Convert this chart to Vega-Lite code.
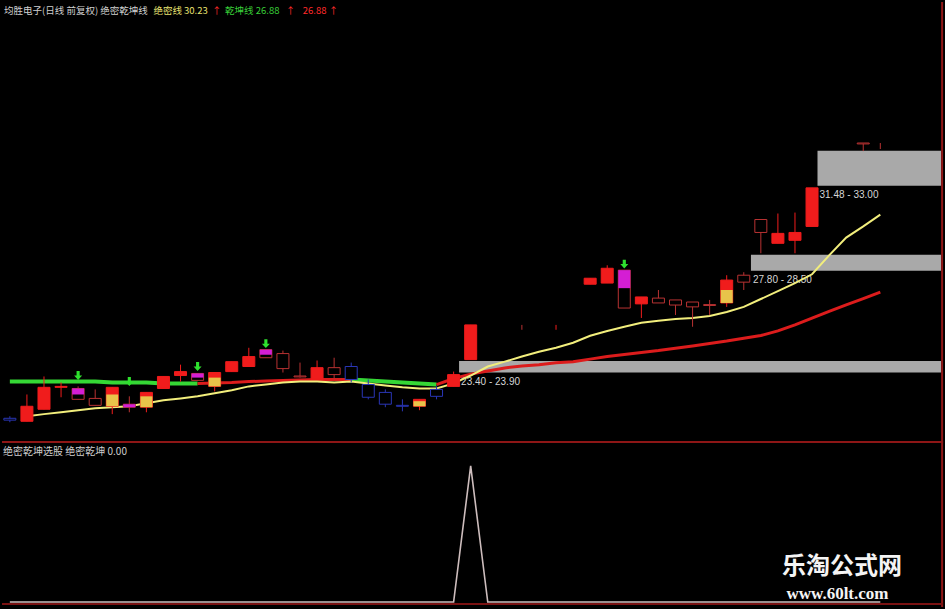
{
  "$schema": "https://vega.github.io/schema/vega-lite/v6.json",
  "autosize": {"type": "fit", "contains": "padding"},
  "width": 945,
  "height": 609,
  "padding": 0,
  "background": "#000000",
  "config": {
    "view": {"stroke": null},
    "font": "Noto Sans CJK SC"
  },
  "datasets": {
    "bands": [
      {"from": 25.32, "to": 53.56, "lo": 23.40, "hi": 23.90, "label": "23.40 - 23.90"},
      {"from": 42.42, "to": 53.56, "lo": 27.80, "hi": 28.50, "label": "27.80 - 28.50"},
      {"from": 46.32, "to": 53.56, "lo": 31.48, "hi": 33.00, "label": "31.48 - 33.00"}
    ],
    "candles": [
      {"i": -1, "hi": 21.51, "lo": 21.25, "top": 21.42, "bot": 21.34, "k": "蓝"},
      {"i": 0, "hi": 22.45, "lo": 21.29, "top": 21.94, "bot": 21.29, "k": "实"},
      {"i": 1, "hi": 23.23, "lo": 21.81, "top": 22.76, "bot": 21.81, "k": "实"},
      {"i": 2, "hi": 22.97, "lo": 22.33, "top": 22.80, "bot": 22.76, "k": "实"},
      {"i": 3, "hi": 22.80, "lo": 22.24, "top": 22.71, "bot": 22.24, "k": "空"},
      {"i": 4, "hi": 22.67, "lo": 21.98, "top": 22.28, "bot": 21.98, "k": "空"},
      {"i": 5, "hi": 22.76, "lo": 21.60, "top": 22.76, "bot": 21.94, "k": "实"},
      {"i": 6, "hi": 22.37, "lo": 21.68, "top": 22.03, "bot": 21.90, "k": "空"},
      {"i": 7, "hi": 22.54, "lo": 21.68, "top": 22.54, "bot": 21.90, "k": "实"},
      {"i": 8, "hi": 23.23, "lo": 22.71, "top": 23.23, "bot": 22.71, "k": "实"},
      {"i": 9, "hi": 23.74, "lo": 23.01, "top": 23.44, "bot": 23.27, "k": "实"},
      {"i": 10, "hi": 23.36, "lo": 23.06, "top": 23.36, "bot": 23.06, "k": "空"},
      {"i": 11, "hi": 23.40, "lo": 22.58, "top": 23.40, "bot": 22.80, "k": "实"},
      {"i": 12, "hi": 23.87, "lo": 23.44, "top": 23.87, "bot": 23.44, "k": "实"},
      {"i": 13, "hi": 24.47, "lo": 23.66, "top": 24.09, "bot": 23.66, "k": "实"},
      {"i": 14, "hi": 24.39, "lo": 24.04, "top": 24.39, "bot": 24.04, "k": "空"},
      {"i": 15, "hi": 24.35, "lo": 23.40, "top": 24.22, "bot": 23.57, "k": "空"},
      {"i": 16, "hi": 23.83, "lo": 23.18, "top": 23.25, "bot": 23.21, "k": "空"},
      {"i": 17, "hi": 23.92, "lo": 23.10, "top": 23.61, "bot": 23.10, "k": "实"},
      {"i": 18, "hi": 24.04, "lo": 23.10, "top": 23.61, "bot": 23.31, "k": "空"},
      {"i": 19, "hi": 23.83, "lo": 22.97, "top": 23.66, "bot": 23.10, "k": "蓝"},
      {"i": 20, "hi": 23.10, "lo": 22.24, "top": 22.88, "bot": 22.33, "k": "蓝"},
      {"i": 21, "hi": 22.67, "lo": 21.90, "top": 22.54, "bot": 22.03, "k": "蓝"},
      {"i": 22, "hi": 22.24, "lo": 21.72, "top": 21.98, "bot": 21.94, "k": "蓝"},
      {"i": 23, "hi": 22.24, "lo": 21.77, "top": 22.24, "bot": 21.94, "k": "实"},
      {"i": 24, "hi": 22.80, "lo": 22.24, "top": 22.67, "bot": 22.37, "k": "蓝"},
      {"i": 25, "hi": 23.44, "lo": 22.80, "top": 23.31, "bot": 22.80, "k": "实"},
      {"i": 26, "hi": 25.46, "lo": 23.96, "top": 25.46, "bot": 23.96, "k": "实"},
      {"i": 29, "hi": 25.46, "lo": 25.25, "top": null, "bot": null, "k": "空"},
      {"i": 31, "hi": 25.46, "lo": 25.25, "top": null, "bot": null, "k": "实"},
      {"i": 33, "hi": 27.48, "lo": 27.22, "top": 27.48, "bot": 27.22, "k": "实"},
      {"i": 34, "hi": 28.04, "lo": 27.27, "top": 27.91, "bot": 27.27, "k": "实"},
      {"i": 35, "hi": 27.83, "lo": 26.19, "top": 27.83, "bot": 26.19, "k": "空"},
      {"i": 36, "hi": 26.67, "lo": 25.76, "top": 26.67, "bot": 26.37, "k": "实"},
      {"i": 37, "hi": 26.97, "lo": 26.41, "top": 26.62, "bot": 26.41, "k": "空"},
      {"i": 38, "hi": 26.54, "lo": 25.89, "top": 26.54, "bot": 26.32, "k": "空"},
      {"i": 39, "hi": 26.45, "lo": 25.38, "top": 26.45, "bot": 26.24, "k": "空"},
      {"i": 40, "hi": 26.54, "lo": 25.89, "top": 26.34, "bot": 26.30, "k": "空"},
      {"i": 41, "hi": 27.61, "lo": 26.24, "top": 27.40, "bot": 26.41, "k": "实"},
      {"i": 42, "hi": 27.74, "lo": 26.97, "top": 27.61, "bot": 27.31, "k": "空"},
      {"i": 43, "hi": 30.02, "lo": 28.56, "top": 30.02, "bot": 29.46, "k": "空"},
      {"i": 44, "hi": 30.28, "lo": 28.99, "top": 29.42, "bot": 28.99, "k": "实"},
      {"i": 45, "hi": 30.32, "lo": 28.56, "top": 29.46, "bot": 29.12, "k": "实"},
      {"i": 46, "hi": 31.39, "lo": 29.72, "top": 31.39, "bot": 29.72, "k": "实"},
      {"i": 49, "hi": 33.33, "lo": 32.98, "top": 33.33, "bot": 33.29, "k": "空"},
      {"i": 50, "hi": 33.33, "lo": 33.07, "top": null, "bot": null, "k": "空"}
    ],
    "overlays": [
      {"i": 3, "top": 22.71, "bot": 22.45, "k": "紫"},
      {"i": 5, "top": 22.45, "bot": 21.94, "k": "黄"},
      {"i": 6, "top": 22.03, "bot": 21.90, "k": "紫"},
      {"i": 7, "top": 22.37, "bot": 21.90, "k": "黄"},
      {"i": 10, "top": 23.36, "bot": 23.18, "k": "紫"},
      {"i": 11, "top": 23.18, "bot": 22.80, "k": "黄"},
      {"i": 14, "top": 24.39, "bot": 24.17, "k": "紫"},
      {"i": 23, "top": 22.16, "bot": 21.94, "k": "黄"},
      {"i": 35, "top": 27.83, "bot": 27.05, "k": "紫"},
      {"i": 41, "top": 26.97, "bot": 26.41, "k": "黄"}
    ],
    "arrows": [
      {"i": 3, "p": 23.27},
      {"i": 6, "p": 23.01},
      {"i": 10, "p": 23.66},
      {"i": 14, "p": 24.65},
      {"i": 35, "p": 28.09}
    ],
    "qiankun": [
      {"i": -1, "v": 23.01, "seg": "A", "s": "弱"},
      {"i": 0, "v": 23.01, "seg": "A", "s": "弱"},
      {"i": 1, "v": 23.01, "seg": "A", "s": "弱"},
      {"i": 2, "v": 23.01, "seg": "A", "s": "弱"},
      {"i": 3, "v": 23.01, "seg": "A", "s": "弱"},
      {"i": 4, "v": 23.01, "seg": "A", "s": "弱"},
      {"i": 5, "v": 22.97, "seg": "A", "s": "弱"},
      {"i": 6, "v": 22.97, "seg": "A", "s": "弱"},
      {"i": 7, "v": 22.97, "seg": "A", "s": "弱"},
      {"i": 8, "v": 22.93, "seg": "A", "s": "弱"},
      {"i": 9, "v": 22.93, "seg": "A", "s": "弱"},
      {"i": 10, "v": 22.93, "seg": "A", "s": "弱"},
      {"i": 10, "v": 22.93, "seg": "B", "s": "强"},
      {"i": 11, "v": 22.95, "seg": "B", "s": "强"},
      {"i": 12, "v": 22.97, "seg": "B", "s": "强"},
      {"i": 13, "v": 23.01, "seg": "B", "s": "强"},
      {"i": 14, "v": 23.03, "seg": "B", "s": "强"},
      {"i": 15, "v": 23.06, "seg": "B", "s": "强"},
      {"i": 16, "v": 23.08, "seg": "B", "s": "强"},
      {"i": 17, "v": 23.10, "seg": "B", "s": "强"},
      {"i": 18, "v": 23.10, "seg": "B", "s": "强"},
      {"i": 19, "v": 23.10, "seg": "B", "s": "强"},
      {"i": 19, "v": 23.10, "seg": "C", "s": "弱"},
      {"i": 20, "v": 23.06, "seg": "C", "s": "弱"},
      {"i": 21, "v": 23.01, "seg": "C", "s": "弱"},
      {"i": 22, "v": 22.97, "seg": "C", "s": "弱"},
      {"i": 23, "v": 22.93, "seg": "C", "s": "弱"},
      {"i": 24, "v": 22.88, "seg": "C", "s": "弱"},
      {"i": 24, "v": 22.88, "seg": "D", "s": "强"},
      {"i": 25, "v": 23.14, "seg": "D", "s": "强"},
      {"i": 26, "v": 23.33, "seg": "D", "s": "强"},
      {"i": 27, "v": 23.47, "seg": "D", "s": "强"},
      {"i": 28, "v": 23.60, "seg": "D", "s": "强"},
      {"i": 29, "v": 23.68, "seg": "D", "s": "强"},
      {"i": 30, "v": 23.74, "seg": "D", "s": "强"},
      {"i": 31, "v": 23.82, "seg": "D", "s": "强"},
      {"i": 32, "v": 23.87, "seg": "D", "s": "强"},
      {"i": 33, "v": 23.98, "seg": "D", "s": "强"},
      {"i": 34, "v": 24.09, "seg": "D", "s": "强"},
      {"i": 35, "v": 24.18, "seg": "D", "s": "强"},
      {"i": 36, "v": 24.27, "seg": "D", "s": "强"},
      {"i": 37, "v": 24.35, "seg": "D", "s": "强"},
      {"i": 38, "v": 24.45, "seg": "D", "s": "强"},
      {"i": 39, "v": 24.55, "seg": "D", "s": "强"},
      {"i": 40, "v": 24.66, "seg": "D", "s": "强"},
      {"i": 41, "v": 24.76, "seg": "D", "s": "强"},
      {"i": 42, "v": 24.88, "seg": "D", "s": "强"},
      {"i": 43, "v": 25.00, "seg": "D", "s": "强"},
      {"i": 44, "v": 25.20, "seg": "D", "s": "强"},
      {"i": 45, "v": 25.46, "seg": "D", "s": "强"},
      {"i": 46, "v": 25.75, "seg": "D", "s": "强"},
      {"i": 47, "v": 26.05, "seg": "D", "s": "强"},
      {"i": 48, "v": 26.33, "seg": "D", "s": "强"},
      {"i": 49, "v": 26.60, "seg": "D", "s": "强"},
      {"i": 50, "v": 26.88, "seg": "D", "s": "强"}
    ],
    "juemi": [
      {"i": 0, "v": 21.51}, {"i": 1, "v": 21.60}, {"i": 2, "v": 21.68}, {"i": 3, "v": 21.77},
      {"i": 4, "v": 21.85}, {"i": 5, "v": 21.90}, {"i": 6, "v": 21.94}, {"i": 7, "v": 22.07},
      {"i": 8, "v": 22.20}, {"i": 9, "v": 22.28}, {"i": 10, "v": 22.37}, {"i": 11, "v": 22.50},
      {"i": 12, "v": 22.63}, {"i": 13, "v": 22.80}, {"i": 14, "v": 22.88}, {"i": 15, "v": 22.97},
      {"i": 16, "v": 23.01}, {"i": 17, "v": 23.01}, {"i": 18, "v": 22.97}, {"i": 19, "v": 23.01},
      {"i": 20, "v": 22.93}, {"i": 21, "v": 22.84}, {"i": 22, "v": 22.76}, {"i": 23, "v": 22.71},
      {"i": 24, "v": 22.71}, {"i": 25, "v": 22.93}, {"i": 26, "v": 23.27}, {"i": 27, "v": 23.66},
      {"i": 28, "v": 23.87}, {"i": 29, "v": 24.09}, {"i": 30, "v": 24.30}, {"i": 31, "v": 24.47},
      {"i": 32, "v": 24.69}, {"i": 33, "v": 24.99}, {"i": 34, "v": 25.20}, {"i": 35, "v": 25.38},
      {"i": 36, "v": 25.55}, {"i": 37, "v": 25.64}, {"i": 38, "v": 25.72}, {"i": 39, "v": 25.76},
      {"i": 40, "v": 25.85}, {"i": 41, "v": 26.02}, {"i": 42, "v": 26.24}, {"i": 43, "v": 26.58},
      {"i": 44, "v": 26.92}, {"i": 45, "v": 27.27}, {"i": 46, "v": 27.65}, {"i": 47, "v": 28.47},
      {"i": 48, "v": 29.24}, {"i": 49, "v": 29.72}, {"i": 50, "v": 30.23}
    ],
    "header": [
      {"i": -1.34, "t": "均胜电子(日线 前复权) 绝密乾坤线", "g": "名"},
      {"i": 7.41, "t": "绝密线 30.23", "g": "绝密线"},
      {"i": 10.85, "t": "↑", "g": "升"},
      {"i": 11.61, "t": "乾坤线 26.88", "g": "乾坤线"},
      {"i": 15.17, "t": "↑", "g": "升"},
      {"i": 16.16, "t": "26.88", "g": "升"},
      {"i": 17.68, "t": "↑", "g": "升"}
    ],
    "select": [
      {"i": -1, "v": 0}, {"i": 0, "v": 0}, {"i": 1, "v": 0}, {"i": 2, "v": 0}, {"i": 3, "v": 0},
      {"i": 4, "v": 0}, {"i": 5, "v": 0}, {"i": 6, "v": 0}, {"i": 7, "v": 0}, {"i": 8, "v": 0},
      {"i": 9, "v": 0}, {"i": 10, "v": 0}, {"i": 11, "v": 0}, {"i": 12, "v": 0}, {"i": 13, "v": 0},
      {"i": 14, "v": 0}, {"i": 15, "v": 0}, {"i": 16, "v": 0}, {"i": 17, "v": 0}, {"i": 18, "v": 0},
      {"i": 19, "v": 0}, {"i": 20, "v": 0}, {"i": 21, "v": 0}, {"i": 22, "v": 0}, {"i": 23, "v": 0},
      {"i": 24, "v": 0}, {"i": 25, "v": 0}, {"i": 26, "v": 1}, {"i": 27, "v": 0}, {"i": 28, "v": 0},
      {"i": 29, "v": 0}, {"i": 30, "v": 0}, {"i": 31, "v": 0}, {"i": 32, "v": 0}, {"i": 33, "v": 0},
      {"i": 34, "v": 0}, {"i": 35, "v": 0}, {"i": 36, "v": 0}, {"i": 37, "v": 0}, {"i": 38, "v": 0},
      {"i": 39, "v": 0}, {"i": 40, "v": 0}, {"i": 41, "v": 0}, {"i": 42, "v": 0}, {"i": 43, "v": 0},
      {"i": 44, "v": 0}, {"i": 45, "v": 0}, {"i": 46, "v": 0}, {"i": 47, "v": 0}, {"i": 48, "v": 0},
      {"i": 49, "v": 0}, {"i": 50, "v": 0}
    ],
    "subtitle": [
      {"i": -1.4, "v": 1.10, "t": "绝密乾坤选股  绝密乾坤 0.00"}
    ],
    "mark1": [
      {"i": 47.75, "v": 0.26, "t": "乐淘公式网"}
    ],
    "mark2": [
      {"i": 47.49, "v": 0.06, "t": "www.60lt.com"}
    ]
  },
  "resolve": {"scale": {"y": "independent", "color": "independent"}},
  "layer": [
    {
      "resolve": {"scale": {"color": "independent"}},
      "layer": [
        {
          "data": {"name": "bands"},
          "mark": {"type": "rect", "color": "#a9a9a9"},
          "encoding": {
            "x": {"field": "from", "type": "quantitative", "axis": null, "scale": {"domain": [-1.167, 53.38], "nice": false, "zero": false}},
            "x2": {"field": "to"},
            "y": {"field": "lo", "type": "quantitative", "axis": null, "scale": {"domain": [13.472, 39.214], "nice": false, "zero": false}},
            "y2": {"field": "hi"}
          }
        },
        {
          "data": {"name": "bands"},
          "mark": {"type": "text", "align": "left", "baseline": "middle", "dx": 2, "dy": 9, "fontSize": 10, "font": "Liberation Sans", "color": "#d6d6d6"},
          "encoding": {
            "x": {"field": "from", "type": "quantitative", "axis": null, "scale": {"domain": [-1.167, 53.38], "nice": false, "zero": false}},
            "y": {"field": "lo", "type": "quantitative", "axis": null, "scale": {"domain": [13.472, 39.214], "nice": false, "zero": false}},
            "text": {"field": "label"}
          }
        },
        {
          "data": {"name": "qiankun"},
          "mark": {"type": "line", "strokeCap": "butt"},
          "encoding": {
            "x": {"field": "i", "type": "quantitative", "axis": null, "scale": {"domain": [-1.167, 53.38], "nice": false, "zero": false}},
            "y": {"field": "v", "type": "quantitative", "axis": null, "scale": {"domain": [13.472, 39.214], "nice": false, "zero": false}},
            "detail": {"field": "seg"},
            "color": {"field": "s", "type": "nominal", "scale": {"domain": ["弱", "强"], "range": ["#35d735", "#dc1c1c"]}, "legend": null},
            "strokeWidth": {"field": "s", "type": "ordinal", "scale": {"domain": ["弱", "强"], "range": [4, 3]}, "legend": null}
          }
        },
        {
          "data": {"name": "juemi"},
          "mark": {"type": "line", "color": "#f2ee7c", "strokeWidth": 2},
          "encoding": {
            "x": {"field": "i", "type": "quantitative", "axis": null, "scale": {"domain": [-1.167, 53.38], "nice": false, "zero": false}},
            "y": {"field": "v", "type": "quantitative", "axis": null, "scale": {"domain": [13.472, 39.214], "nice": false, "zero": false}}
          }
        },
        {
          "data": {"name": "candles"},
          "mark": {"type": "rule", "strokeWidth": 1},
          "encoding": {
            "x": {"field": "i", "type": "quantitative", "axis": null, "scale": {"domain": [-1.167, 53.38], "nice": false, "zero": false}},
            "y": {"field": "lo", "type": "quantitative", "axis": null, "scale": {"domain": [13.472, 39.214], "nice": false, "zero": false}},
            "y2": {"field": "hi"},
            "stroke": {"field": "k", "type": "nominal", "scale": {"domain": ["实", "空", "蓝"], "range": ["#f01c1c", "#b83232", "#2a36b6"]}, "legend": null}
          }
        },
        {
          "data": {"name": "candles"},
          "transform": [{"filter": "datum.top != null"}],
          "mark": {"type": "bar", "size": 12, "strokeWidth": 1},
          "encoding": {
            "x": {"field": "i", "type": "quantitative", "axis": null, "scale": {"domain": [-1.167, 53.38], "nice": false, "zero": false}},
            "y": {"field": "top", "type": "quantitative", "axis": null, "scale": {"domain": [13.472, 39.214], "nice": false, "zero": false}},
            "y2": {"field": "bot"},
            "fill": {"field": "k", "type": "nominal", "scale": {"domain": ["实", "空", "蓝", "紫", "黄"], "range": ["#f01c1c", "#000000", "#000000", "#d41ed4", "#e8c44a"]}, "legend": null},
            "stroke": {"field": "k", "type": "nominal", "legend": null}
          }
        },
        {
          "data": {"name": "overlays"},
          "mark": {"type": "bar", "size": 12},
          "encoding": {
            "x": {"field": "i", "type": "quantitative", "axis": null, "scale": {"domain": [-1.167, 53.38], "nice": false, "zero": false}},
            "y": {"field": "top", "type": "quantitative", "axis": null, "scale": {"domain": [13.472, 39.214], "nice": false, "zero": false}},
            "y2": {"field": "bot"},
            "fill": {"field": "k", "type": "nominal", "legend": null}
          }
        },
        {
          "data": {"name": "arrows"},
          "mark": {"type": "point", "filled": true, "size": 80, "opacity": 1, "color": "#2ee02e", "shape": "M -0.35 -1 L 0.35 -1 L 0.35 0 L 0.9 0 L 0 1 L -0.9 0 L -0.35 0 Z"},
          "encoding": {
            "x": {"field": "i", "type": "quantitative", "axis": null, "scale": {"domain": [-1.167, 53.38], "nice": false, "zero": false}},
            "y": {"field": "p", "type": "quantitative", "axis": null, "scale": {"domain": [13.472, 39.214], "nice": false, "zero": false}}
          }
        },
        {
          "data": {"name": "header"},
          "mark": {"type": "text", "align": "left", "baseline": "middle", "fontSize": 9.5, "font": "Noto Sans CJK SC"},
          "encoding": {
            "x": {"field": "i", "type": "quantitative", "axis": null, "scale": {"domain": [-1.167, 53.38], "nice": false, "zero": false}},
            "y": {"datum": 39.04, "type": "quantitative", "axis": null, "scale": {"domain": [13.472, 39.214], "nice": false, "zero": false}},
            "text": {"field": "t"},
            "color": {"field": "g", "type": "nominal", "scale": {"domain": ["名", "绝密线", "乾坤线", "升"], "range": ["#cfcfcf", "#e8e270", "#38cf38", "#ff2a2a"]}, "legend": null}
          }
        },
        {
          "data": {"name": "subtitle"},
          "mark": {"type": "rule", "color": "#8e1616", "strokeWidth": 2},
          "encoding": {
            "x": {"datum": -1.46, "type": "quantitative", "axis": null, "scale": {"domain": [-1.167, 53.38], "nice": false, "zero": false}},
            "x2": {"datum": 53.68},
            "y": {"datum": 20.392, "type": "quantitative", "axis": null, "scale": {"domain": [13.472, 39.214], "nice": false, "zero": false}}
          }
        },
        {
          "data": {"name": "subtitle"},
          "mark": {"type": "rule", "color": "#8e1616", "strokeWidth": 2},
          "encoding": {
            "x": {"datum": 53.62, "type": "quantitative", "axis": null, "scale": {"domain": [-1.167, 53.38], "nice": false, "zero": false}},
            "y": {"datum": 13.258, "type": "quantitative", "axis": null, "scale": {"domain": [13.472, 39.214], "nice": false, "zero": false}},
            "y2": {"datum": 39.429}
          }
        }
      ]
    },
    {
      "layer": [
        {
          "data": {"name": "select"},
          "mark": {"type": "line", "color": "#cdbdbd", "strokeWidth": 1.6},
          "encoding": {
            "x": {"field": "i", "type": "quantitative", "axis": null, "scale": {"domain": [-1.167, 53.38], "nice": false, "zero": false}},
            "y": {"field": "v", "type": "quantitative", "axis": null, "scale": {"domain": [0, 4.372], "nice": false, "zero": false}}
          }
        },
        {
          "data": {"name": "subtitle"},
          "mark": {"type": "rule", "color": "#7a1212", "strokeWidth": 2},
          "encoding": {
            "x": {"datum": -1.46, "type": "quantitative", "axis": null, "scale": {"domain": [-1.167, 53.38], "nice": false, "zero": false}},
            "x2": {"datum": 53.68},
            "y": {"datum": -0.0146, "type": "quantitative", "axis": null, "scale": {"domain": [0, 4.372], "nice": false, "zero": false}}
          }
        },
        {
          "data": {"name": "subtitle"},
          "mark": {"type": "text", "align": "left", "baseline": "middle", "fontSize": 10, "font": "Noto Sans CJK SC", "color": "#cfcfcf"},
          "encoding": {
            "x": {"field": "i", "type": "quantitative", "axis": null, "scale": {"domain": [-1.167, 53.38], "nice": false, "zero": false}},
            "y": {"field": "v", "type": "quantitative", "axis": null, "scale": {"domain": [0, 4.372], "nice": false, "zero": false}},
            "text": {"field": "t"}
          }
        },
        {
          "data": {"name": "mark1"},
          "mark": {"type": "text", "align": "center", "baseline": "middle", "fontSize": 24, "fontWeight": "bold", "font": "Noto Sans CJK SC", "color": "#f4f4f4"},
          "encoding": {
            "x": {"field": "i", "type": "quantitative", "axis": null, "scale": {"domain": [-1.167, 53.38], "nice": false, "zero": false}},
            "y": {"field": "v", "type": "quantitative", "axis": null, "scale": {"domain": [0, 4.372], "nice": false, "zero": false}},
            "text": {"field": "t"}
          }
        },
        {
          "data": {"name": "mark2"},
          "mark": {"type": "text", "align": "center", "baseline": "middle", "fontSize": 17, "fontWeight": "bold", "font": "Liberation Serif", "color": "#f4f4f4"},
          "encoding": {
            "x": {"field": "i", "type": "quantitative", "axis": null, "scale": {"domain": [-1.167, 53.38], "nice": false, "zero": false}},
            "y": {"field": "v", "type": "quantitative", "axis": null, "scale": {"domain": [0, 4.372], "nice": false, "zero": false}},
            "text": {"field": "t"}
          }
        }
      ]
    }
  ]
}
